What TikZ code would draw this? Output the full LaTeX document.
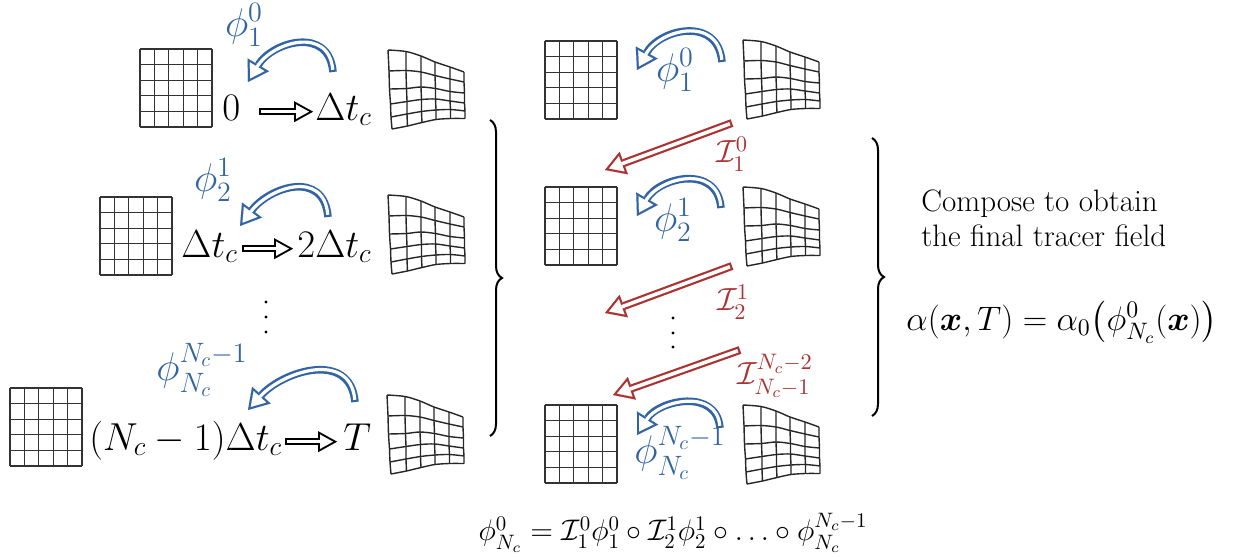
\RequirePackage{fix-cm}
\documentclass[tikz,border=0pt]{standalone}
\usepackage{amsmath,bm}
\usetikzlibrary{arrows.meta,decorations.pathreplacing,calc}
\definecolor{phiblue}{RGB}{50,100,165}
\definecolor{ired}{RGB}{172,50,50}
\tikzset{
  bigtxt/.style={font=\fontsize{19.5}{23}\selectfont, inner sep=0pt},
  bluelab/.style={font=\fontsize{20}{24}\selectfont, inner sep=0pt, text=phiblue},
  redlab/.style={font=\fontsize{16}{19}\selectfont, inner sep=0pt, text=ired},
  gridbox/.style={inner sep=0pt, minimum width=36pt, minimum height=39pt, anchor=north west},
  warpbox/.style={inner sep=0pt, minimum width=38.5pt, minimum height=39.5pt, anchor=north west},
  gridline/.style={line width=0.55pt, black!80},
  warpline/.style={line width=0.7pt, black!85},
  bluout/.style={phiblue, line width=3.8pt, -{Triangle[length=10pt,width=12.5pt,line width=0.01pt]}},
  bluin/.style={white, line width=1.6pt, shorten <=1.1pt, shorten >=2.1pt, -{Triangle[length=6.8pt,width=8.5pt,line width=0.01pt]}},
  redout/.style={ired, line width=4pt, -{Triangle[length=10pt,width=12pt,line width=0.01pt]}},
  redin/.style={white, line width=1.8pt, shorten <=1.1pt, shorten >=2.15pt, -{Triangle[length=6.75pt,width=8.1pt,line width=0.01pt]}},
  blkout/.style={black, line width=3.6pt, -{Triangle[length=9.5pt,width=10.5pt,line width=0.01pt]}},
  blkin/.style={white, line width=1.6pt, shorten <=1pt, shorten >=2.05pt, -{Triangle[length=6.4pt,width=7.1pt,line width=0.01pt]}},
  bracestyle/.style={line width=1pt, decorate, decoration={brace, amplitude=6pt}},
}
\newcommand\hollow[2]{\draw[#1out] #2; \draw[#1in] #2;}
\newcommand\regulargrid[2]{%
  \node[gridbox] (#1) at (#2) {};
  \begin{scope}[shift={(#1.north west)}]
    \foreach \i in {0,...,5} {\draw[gridline] (\i*14.4,0) -- (\i*14.4,-78);}
    \foreach \j in {0,...,5} {\draw[gridline] (0,-\j*15.6) -- (72,-\j*15.6);}
  \end{scope}}
\newcommand\warpgrid[2]{%
  \node[warpbox] (#1) at (#2) {};
  \begin{scope}[shift={(#1.north west)}, warpline]
    \draw plot[smooth] coordinates {(0,0) (18,-1.5) (33,-6) (47,-12) (62,-17) (76,-22)};
    \draw plot[smooth] coordinates {(1,-21) (18,-20.5) (33,-22) (47,-25.5) (62,-29) (76,-32)};
    \draw plot[smooth] coordinates {(1.5,-39) (18.5,-38.5) (33,-37) (47.5,-38.5) (62,-41.5) (76.5,-43)};
    \draw plot[smooth] coordinates {(2.5,-54) (19,-51.5) (33.5,-49.5) (47.5,-49) (62,-51) (76.5,-53)};
    \draw plot[smooth] coordinates {(3,-67) (19,-64) (33.5,-61.5) (48,-60) (62.5,-59.5) (77,-61)};
    \draw plot[smooth] coordinates {(4,-79) (19.5,-76) (34,-72.5) (48,-69.5) (62.5,-68.5) (77,-68.5)};
    \draw plot[smooth] coordinates {(0,0) (1,-21) (1.5,-39) (2.5,-54) (3,-67) (4,-79)};
    \draw plot[smooth] coordinates {(18,-1.5) (18,-20.5) (18.5,-38.5) (19,-51.5) (19,-64) (19.5,-76)};
    \draw plot[smooth] coordinates {(33,-6) (33,-22) (33,-37) (33.5,-49.5) (33.5,-61.5) (34,-72.5)};
    \draw plot[smooth] coordinates {(47,-12) (47,-25.5) (47.5,-38.5) (47.5,-49) (48,-60) (48,-69.5)};
    \draw plot[smooth] coordinates {(62,-17) (62,-29) (62,-41.5) (62,-51) (62.5,-59.5) (62.5,-68.5)};
    \draw plot[smooth] coordinates {(76,-22) (76,-32) (76.5,-43) (76.5,-53) (77,-61) (77,-68.5)};
  \end{scope}}
\begin{document}
\begin{tikzpicture}[x=0.5pt, y=0.5pt]
\useasboundingbox (0,0) rectangle (1239,-557);
% ---------- left column ----------
\regulargrid{g1}{140,-49}
\regulargrid{g2}{100,-197}
\regulargrid{g3}{10,-388}
\warpgrid{d1}{388,-50}
\warpgrid{d2}{388,-195}
\warpgrid{d3}{387,-395}
\node[bigtxt, anchor=base west] (a1) at (222,-120) {$0$};
\node[bigtxt, anchor=base west] (b1) at (315,-120) {$\Delta t_c$};
\node[bigtxt, anchor=base west] (a2) at (181,-257) {$\Delta t_c$};
\node[bigtxt, anchor=base west] (b2) at (297,-257) {$2\Delta t_c$};
\node[bigtxt, anchor=base west] (a3) at (89,-450) {$(N_c-1)\Delta t_c$};
\node[bigtxt, anchor=base west] (b3) at (343,-450) {$T$};
\hollow{blk}{([xshift=9pt,yshift=2pt]a1.mid east) -- ([xshift=-1pt,yshift=2pt]b1.mid west)}
\hollow{blk}{([xshift=2pt,yshift=2pt]a2.mid east) -- ([xshift=-2pt,yshift=2pt]b2.mid west)}
\hollow{blk}{([xshift=1.5pt,yshift=2pt]a3.mid east) -- ([xshift=-3pt,yshift=2pt]b3.mid west)}
\coordinate (la1t) at (333,-72);  \coordinate (la1h) at (248,-82);
\coordinate (la2t) at (328,-217); \coordinate (la2h) at (240,-226);
\coordinate (la3t) at (355,-402); \coordinate (la3h) at (248,-410);
\hollow{blu}{(la1t) to[out=95,in=59,looseness=1.4] (la1h)}
\hollow{blu}{(la2t) to[out=95,in=53,looseness=1.4] (la2h)}
\hollow{blu}{(la3t) to[out=95,in=48,looseness=1.25] (la3h)}
\node[bluelab] (p1) at (244,-25) {$\phi^0_1$};
\node[bluelab] (p2) at (213,-180) {$\phi^1_2$};
\node[bluelab] (p3) at (202,-370) {$\phi^{N_c-1}_{N_c}$};
\foreach \yy in {302,317,332} {\fill (266,-\yy) circle (1.6);}
% ---------- braces ----------
\coordinate (br1t) at (490,-120); \coordinate (br1b) at (490,-436);
\draw[bracestyle] (br1t) -- (br1b);
\coordinate (br2t) at (872,-138); \coordinate (br2b) at (872,-416);
\draw[bracestyle] (br2t) -- (br2b);
% ---------- middle column ----------
\regulargrid{m1}{545,-41}
\regulargrid{m2}{545,-187}
\regulargrid{m3}{545,-405}
\warpgrid{e1}{743,-40}
\warpgrid{e2}{743,-187}
\warpgrid{e3}{743,-405}
\coordinate (ma1t) at (722,-62);  \coordinate (ma1h) at (637,-70);
\coordinate (ma2t) at (721,-208); \coordinate (ma2h) at (637,-216);
\coordinate (ma3t) at (720,-428); \coordinate (ma3h) at (637,-435);
\hollow{blu}{(ma1t) to[out=95,in=61,looseness=1.4] (ma1h)}
\hollow{blu}{(ma2t) to[out=95,in=60,looseness=1.35] (ma2h)}
\hollow{blu}{(ma3t) to[out=95,in=58,looseness=1.25] (ma3h)}
\node[bluelab] (q1) at (675,-70) {$\phi^0_1$};
\node[bluelab] (q2) at (673,-220) {$\phi^1_2$};
\node[bluelab] (q3) at (680,-453) {$\phi^{N_c-1}_{N_c}$};
\coordinate (r1t) at (732,-123); \coordinate (r1h) at (605,-170);
\coordinate (r2t) at (732,-266); \coordinate (r2h) at (605,-313);
\coordinate (r3t) at (740,-350); \coordinate (r3h) at (613,-395);
\hollow{red}{(r1t) -- (r1h)}
\hollow{red}{(r2t) -- (r2h)}
\hollow{red}{(r3t) -- (r3h)}
\node[redlab] (i1) at (732,-154) {$\mathcal{I}^0_1$};
\node[redlab] (i2) at (733,-302) {$\mathcal{I}^1_2$};
\node[redlab] (i3) at (775,-376) {$\mathcal{I}^{N_c-2}_{N_c-1}$};
\foreach \yy in {318,333,347} {\fill (673,-\yy) circle (1.6);}
% ---------- right ----------
\node[font=\fontsize{15.5}{17.5}\selectfont, align=left, anchor=north west, inner sep=0pt] (txt) at (921,-189) {Compose to obtain\\the final tracer field};
\node[font=\fontsize{17}{20}\selectfont, inner sep=0pt] (alpha) at (1062,-322) {$\alpha(\bm{x},T)=\alpha_0\bigl(\phi^0_{N_c}(\bm{x})\bigr)$};
\node[font=\fontsize{14.9}{17}\selectfont, inner sep=0pt] (comp) at (673,-533) {$\phi^0_{N_c}=\mathcal{I}^0_1\phi^0_1\circ\mathcal{I}^1_2\phi^1_2\circ\ldots\circ\phi^{N_c-1}_{N_c}$};
\end{tikzpicture}
\end{document}
